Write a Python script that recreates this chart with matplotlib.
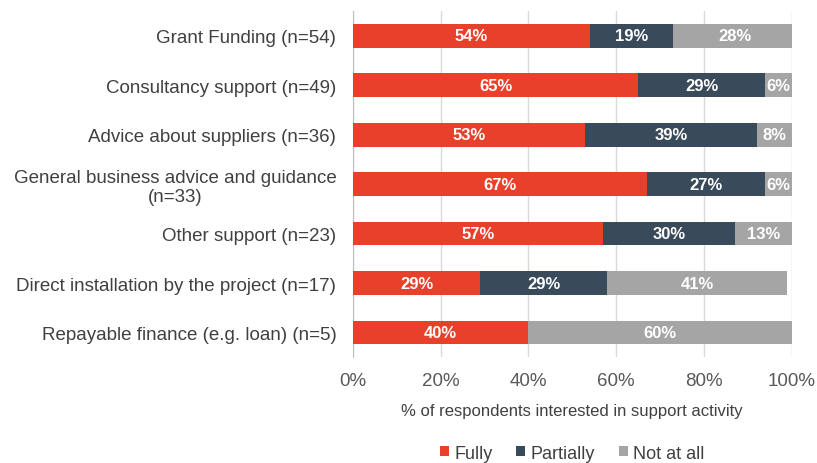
import numpy as np
import matplotlib.pyplot as plt

categories = [
    'Grant Funding (n=54)',
    'Consultancy support (n=49)',
    'Advice about suppliers (n=36)',
    'General business advice and guidance\n(n=33)',
    'Other support (n=23)',
    'Direct installation by the project (n=17)',
    'Repayable finance (e.g. loan) (n=5)',
]
fully = [54, 65, 53, 67, 57, 29, 40]
partially = [19, 29, 39, 27, 30, 29, 0]
not_at_all = [28, 6, 8, 6, 13, 41, 60]

series = [('Fully', fully, '#E8402B'),
          ('Partially', partially, '#394A5B'),
          ('Not at all', not_at_all, '#A5A5A5')]

plt.rcParams['font.family'] = ['Liberation Sans', 'DejaVu Sans']

fig = plt.figure(figsize=(8.17, 4.64), dpi=100)
ax = fig.add_axes([0.432, 0.228, 0.537, 0.746])

y = np.arange(len(categories))
left = np.zeros(len(categories))
for name, vals, color in series:
    vals = np.array(vals, dtype=float)
    bars = ax.barh(y, vals, left=left, height=0.48, color=color, label=name, zorder=3)
    for b, v in zip(bars, vals):
        if v > 0:
            ax.text(b.get_x() + b.get_width() / 2, b.get_y() + b.get_height() / 2,
                    f'{int(v)}%', ha='center', va='center', color='white',
                    fontsize=12, fontweight='bold', zorder=4)
    left += vals

ax.set_xlim(0, 100)
ax.set_ylim(len(categories) - 0.5, -0.5)
ax.set_yticks(y)
ax.set_yticklabels(categories, fontsize=13.5, color='#404040', linespacing=1.15,
                   multialignment='center')
ax.set_xticks([0, 20, 40, 60, 80, 100])
ax.set_xticklabels([f'{t}%' for t in range(0, 101, 20)], fontsize=13.5, color='#595959')
ax.tick_params(axis='x', length=0, pad=11)
ax.tick_params(axis='y', length=0, pad=12)
ax.xaxis.grid(True, color='#D9D9D9', linewidth=1, zorder=0)
for s in ['top', 'right', 'bottom']:
    ax.spines[s].set_visible(False)
ax.spines['left'].set_color('#BFBFBF')
ax.set_xlabel('% of respondents interested in support activity', fontsize=12,
              color='#404040', labelpad=10)

ax.legend(loc='center', bbox_to_anchor=(0.5, -0.277), ncol=3, frameon=False,
          fontsize=13, handlelength=0.5, handleheight=0.5, handletextpad=0.3,
          columnspacing=1.3, labelcolor='#404040')

fig.savefig('out.png', dpi=100)
